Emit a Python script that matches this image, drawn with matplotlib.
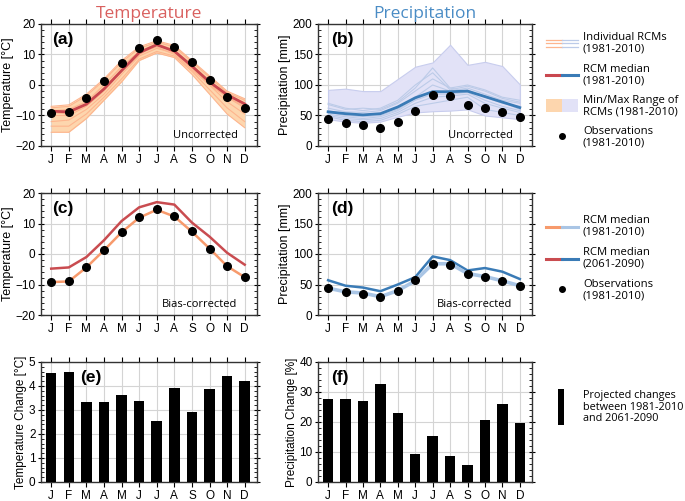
import matplotlib
matplotlib.use('Agg')
import matplotlib.pyplot as plt
from matplotlib.ticker import MultipleLocator
import numpy as np

plt.rcParams['font.family'] = ['Liberation Sans', 'DejaVu Sans']
LBL = ['Open Sans', 'DejaVu Sans']

months = ["J", "F", "M", "A", "M", "J", "J", "A", "S", "O", "N", "D"]
x = np.arange(1, 13)

# temperature (deg C)
temp_obs = [-9.3, -9.0, -4.3, 1.2, 7.2, 12.0, 14.6, 12.3, 7.4, 1.8, -4.0, -7.7]
temp_med = [-8.6, -8.8, -6.3, -1.3, 4.7, 10.6, 13.2, 11.1, 6.2, 1.0, -3.2, -6.2]
temp_max = [-7.0, -6.5, -3.0, 2.0, 8.0, 12.5, 14.5, 13.0, 8.0, 3.0, -2.0, -4.5]
temp_min = [-15.5, -15.5, -11.0, -5.0, 1.0, 8.0, 10.5, 9.0, 3.5, -3.0, -9.5, -14.0]
temp_rcms = [
    [-7.5, -7.0, -3.5, 1.5, 7.5, 12.0, 14.0, 12.5, 7.5, 2.5, -2.5, -5.0],
    [-8.5, -8.0, -5.5, 0.0, 6.0, 11.0, 13.5, 11.5, 6.5, 1.5, -3.0, -6.0],
    [-10.0, -10.0, -7.0, -2.0, 4.5, 10.0, 13.0, 11.0, 6.0, 0.5, -4.0, -7.5],
    [-12.0, -11.5, -8.0, -3.0, 3.5, 9.5, 12.0, 10.5, 5.5, 0.0, -5.5, -9.5],
    [-13.5, -13.5, -9.5, -4.0, 2.0, 8.5, 11.0, 9.5, 4.5, -1.5, -7.5, -12.0],
    [-15.5, -15.5, -11.0, -5.0, 1.0, 8.0, 10.5, 9.0, 3.5, -3.0, -9.5, -14.0],
    [-7.0, -6.5, -3.0, 2.0, 8.0, 12.5, 14.5, 13.0, 8.0, 3.0, -2.0, -4.5],
    [-9.0, -9.5, -6.5, -1.5, 5.0, 10.5, 12.5, 10.0, 5.0, 0.0, -4.0, -7.0],
]
temp_hist_bc = [-9.2, -9.0, -4.4, 1.2, 7.1, 11.9, 14.5, 12.3, 7.3, 1.8, -4.0, -7.6]
temp_fut_bc = [-4.8, -4.4, -1.0, 4.5, 10.8, 15.3, 17.0, 16.2, 10.3, 5.7, 0.4, -3.5]
temp_change = [4.55, 4.57, 3.35, 3.33, 3.63, 3.37, 2.55, 3.93, 2.90, 3.86, 4.40, 4.20]

# precipitation (mm)
prec_obs = [44, 37, 35, 29, 40, 57, 83, 82, 67, 62, 55, 48]
prec_med = [56, 53, 51, 53, 64, 79, 89, 89, 90, 81, 72, 63]
prec_max = [92, 94, 90, 90, 110, 130, 137, 166, 133, 138, 131, 101]
prec_min = [44, 40, 38, 40, 48, 55, 57, 58, 60, 50, 47, 44]
prec_rcms = [
    [68, 60, 62, 60, 72, 95, 128, 95, 90, 82, 72, 60],
    [62, 56, 55, 58, 70, 90, 110, 95, 100, 92, 80, 75],
    [58, 52, 50, 52, 62, 80, 100, 90, 95, 85, 75, 70],
    [55, 50, 48, 50, 60, 78, 90, 88, 92, 80, 70, 65],
    [52, 48, 45, 48, 58, 75, 85, 85, 88, 75, 65, 58],
    [50, 45, 43, 45, 55, 70, 80, 82, 85, 70, 62, 55],
    [48, 42, 40, 42, 52, 65, 70, 75, 80, 60, 55, 50],
    [70, 62, 58, 62, 75, 100, 120, 92, 98, 90, 78, 72],
]
prec_hist_bc = [44, 38, 36, 30, 40, 56, 84, 84, 68, 63, 56, 48]
prec_fut_bc = [57, 48, 45, 39, 50, 62, 96, 90, 73, 77, 71, 59]
prec_change = [27.8, 27.6, 27.0, 32.8, 23.0, 9.3, 15.2, 8.6, 5.8, 20.6, 26.0, 19.6]

T_LINE, T_MED, T_FILL = "#fdb58e", "#c9474f", "#fdd6ae"
T_HIST, T_FUT = "#f79a6c", "#c94c50"
P_LINE, P_MED, P_FILL = "#bccbe8", "#3a7bb6", "#e2e2f7"
P_HIST = "#a9c5e5"

W, H = 685, 501
fig = plt.figure(figsize=(W / 100, H / 100), dpi=100)


def box(l, t, r, b):
    return [l / W, 1 - b / H, (r - l) / W, (b - t) / H]


def style(ax, ymin, ymax, major, minor, ylabel, ylsize=9.0):
    ax.set_xlim(0.42, 12.7)
    ax.set_ylim(ymin, ymax)
    ax.set_xticks(x)
    ax.set_xticklabels(months)
    ax.yaxis.set_major_locator(MultipleLocator(major))
    ax.yaxis.set_minor_locator(MultipleLocator(minor))
    ax.tick_params(axis='x', which='major', direction='out', length=3.5,
                   top=True, labelsize=8.5, pad=2)
    ax.tick_params(axis='y', which='major', direction='inout', length=5,
                   right=True, labelsize=8.5, pad=1.5)
    ax.tick_params(axis='y', which='minor', direction='in', length=2,
                   right=True, left=True)
    ax.grid(True, which='major', color='#d4d4d4', lw=0.8)
    ax.set_axisbelow(True)
    for s in ax.spines.values():
        s.set_linewidth(1.0)
        s.set_color('#333333')
    ax.set_ylabel(ylabel, fontsize=ylsize, labelpad=1)


def tag(ax, letter, note=None, lx=0.05):
    ax.text(lx, 0.87, letter, transform=ax.transAxes, fontsize=12.5,
            fontweight='bold', va='center', ha='left')
    if note:
        ax.text(0.91, 0.09, note, transform=ax.transAxes, fontsize=8,
                family=LBL, ha='right', va='center')


# (a)
ax = fig.add_axes(box(41, 24, 257, 146))
ax.fill_between(x, temp_min, temp_max, color=T_FILL, lw=0, zorder=1)
for r in temp_rcms:
    ax.plot(x, r, color=T_LINE, lw=0.8, zorder=2)
ax.plot(x, temp_med, color=T_MED, lw=2.0, zorder=3)
ax.plot(x, temp_obs, 'o', color='black', ms=5.5, zorder=4)
style(ax, -20, 20, 10, 2, "Temperature [°C]")
tag(ax, "(a)", "Uncorrected")
ax.set_title("Temperature", color="#d9605f", fontsize=12.5, family=LBL, pad=4)

# (b)
ax = fig.add_axes(box(318, 24, 532, 146))
ax.fill_between(x, prec_min, prec_max, color=P_FILL, lw=0.8, edgecolor='#c8cdee', zorder=1)
for r in prec_rcms:
    ax.plot(x, r, color=P_LINE, lw=0.8, zorder=2)
ax.plot(x, prec_med, color=P_MED, lw=2.0, zorder=3)
ax.plot(x, prec_obs, 'o', color='black', ms=5.5, zorder=4)
style(ax, 0, 200, 50, 10, "Precipitation [mm]")
tag(ax, "(b)", "Uncorrected", lx=0.06)
ax.set_title("Precipitation", color="#4a8cc5", fontsize=12.5, family=LBL, pad=4)

# (c)
ax = fig.add_axes(box(41, 193, 257, 315))
ax.plot(x, temp_fut_bc, color=T_FUT, lw=1.8, zorder=3)
ax.plot(x, temp_hist_bc, color=T_HIST, lw=1.8, zorder=3)
ax.plot(x, temp_obs, 'o', color='black', ms=5.5, zorder=4)
style(ax, -20, 20, 10, 2, "Temperature [°C]")
tag(ax, "(c)", "Bias-corrected")

# (d)
ax = fig.add_axes(box(318, 193, 532, 315))
ax.plot(x, prec_fut_bc, color=P_MED, lw=1.8, zorder=3)
ax.plot(x, prec_hist_bc, color=P_HIST, lw=2.6, zorder=3)
ax.plot(x, prec_obs, 'o', color='black', ms=5.5, zorder=4)
style(ax, 0, 200, 50, 10, "Precipitation [mm]")
tag(ax, "(d)", "Bias-corrected", lx=0.06)

# (e)
ax = fig.add_axes(box(41, 362, 257, 482))
ax.bar(x, temp_change, width=0.6, color='black', zorder=3)
style(ax, 0, 5, 1, 0.2, "Temperature Change [°C]", ylsize=8.5)
tag(ax, "(e)", lx=0.18)

# (f)
ax = fig.add_axes(box(318, 362, 532, 482))
ax.bar(x, prec_change, width=0.6, color='black', zorder=3)
style(ax, 0, 40, 10, 2, "Precipitation Change [%]", ylsize=8.5)
tag(ax, "(f)", lx=0.06)

# legends drawn in pixel space
lg = fig.add_axes([0, 0, 1, 1])
lg.set_xlim(0, W)
lg.set_ylim(H, 0)
lg.axis('off')
x0, xm, x1, tx = 546, 562, 578, 583
fs = 8.1
kw = dict(fontsize=fs, family=LBL, va='center', linespacing=1.05)
for dy in (-3.5, 0, 3.5):
    lg.plot([x0, xm], [43 + dy] * 2, color=T_LINE, lw=0.9)
    lg.plot([xm, x1], [43 + dy] * 2, color=P_LINE, lw=0.9)
lg.text(tx, 43, "Individual RCMs\n(1981-2010)", **kw)
lg.plot([x0, xm], [75, 75], color=T_MED, lw=2.2)
lg.plot([xm, x1], [75, 75], color=P_MED, lw=2.2)
lg.text(tx, 75, "RCM median\n(1981-2010)", **kw)
lg.fill_between([x0, xm], 99, 112, color=T_FILL, lw=0)
lg.fill_between([xm, x1], 99, 112, color=P_FILL, lw=0)
lg.text(tx, 106, "Min/Max Range of\nRCMs (1981-2010)", **kw)
lg.plot([xm], [136], 'o', color='black', ms=4)
lg.text(tx, 137, "Observations\n(1981-2010)", **kw)

lg.plot([x0, xm], [227, 227], color=T_HIST, lw=2.2)
lg.plot([xm, x1], [227, 227], color=P_HIST, lw=2.2)
lg.text(tx, 226, "RCM median\n(1981-2010)", **kw)
lg.plot([x0, xm], [259, 259], color=T_FUT, lw=2.2)
lg.plot([xm, x1], [259, 259], color=P_MED, lw=2.2)
lg.text(tx, 258, "RCM median\n(2061-2090)", **kw)
lg.plot([xm], [289], 'o', color='black', ms=4)
lg.text(tx, 290, "Observations\n(1981-2010)", **kw)

lg.fill_between([558, 564], 389, 425, color='black', lw=0)
kw3 = dict(kw, fontsize=7.8)
lg.text(tx, 407, "Projected changes\nbetween 1981-2010\nand 2061-2090", **kw3)

fig.savefig("out.png", dpi=100)
